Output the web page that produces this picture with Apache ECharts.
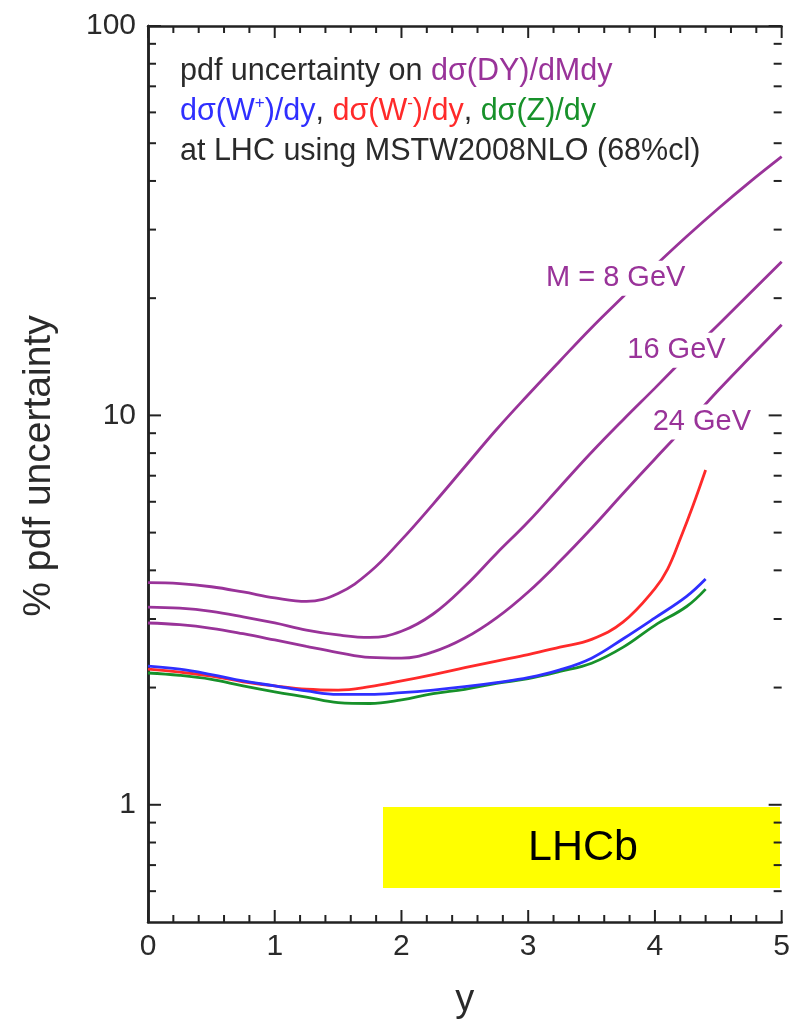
<!DOCTYPE html>
<html>
<head>
<meta charset="utf-8">
<script src="https://cdn.jsdelivr.net/npm/echarts@6/dist/echarts.min.js"></script>
<style>
  html, body { margin: 0; padding: 0; background: #ffffff; }
  #chart { width: 793px; height: 1035px; }
</style>
</head>
<body>
<div id="chart"></div>
<script>
// Rapidity grids and % pdf uncertainty values (MSTW2008NLO, 68% cl)
const dyRapidity = [0, 0.25, 0.5, 0.75, 1, 1.25, 1.5, 1.75, 2, 2.25, 2.5, 2.75, 3, 3.25, 3.5, 3.75, 4, 4.25, 4.5, 4.75, 5];
const dyM8  = [3.72, 3.70, 3.63, 3.52, 3.40, 3.33, 3.49, 3.96, 4.79, 5.92, 7.38, 9.20, 11.3, 13.8, 16.8, 20.2, 24.2, 28.8, 34.0, 39.8, 46.2];
const dyM16 = [3.22, 3.20, 3.14, 3.04, 2.93, 2.81, 2.73, 2.69, 2.79, 3.09, 3.64, 4.42, 5.33, 6.55, 8.04, 9.75, 11.75, 14.2, 17.1, 20.6, 24.8];
const dyM24 = [2.93, 2.90, 2.84, 2.75, 2.65, 2.55, 2.46, 2.39, 2.38, 2.47, 2.68, 3.02, 3.52, 4.22, 5.13, 6.31, 7.73, 9.44, 11.6, 14.1, 17.1];

const wzRapidity = [0, 0.25, 0.5, 0.75, 1, 1.25, 1.5, 1.75, 2, 2.25, 2.5, 2.75, 3, 3.25, 3.5, 3.75, 4, 4.25, 4.4];
const wPlus  = [2.27, 2.23, 2.16, 2.08, 2.02, 1.96, 1.92, 1.92, 1.94, 1.97, 2.01, 2.06, 2.12, 2.22, 2.38, 2.67, 3.02, 3.43, 3.80];
const zBoson = [2.18, 2.15, 2.10, 2.02, 1.95, 1.89, 1.83, 1.82, 1.86, 1.93, 1.98, 2.05, 2.11, 2.20, 2.31, 2.54, 2.89, 3.23, 3.58];

const wMinusRapidity = [0, 0.25, 0.5, 0.75, 1, 1.25, 1.5, 1.75, 2, 2.25, 2.5, 2.75, 3, 3.25, 3.5, 3.75, 4, 4.1, 4.2, 4.3, 4.4];
const wMinus = [2.23, 2.19, 2.14, 2.07, 2.02, 1.98, 1.97, 2.01, 2.08, 2.16, 2.25, 2.34, 2.43, 2.54, 2.66, 2.95, 3.59, 4.03, 4.82, 5.86, 7.24];

// Curve labels for the Drell-Yan mass values, anchored in data space
const massLabels = ['M = 8 GeV', '16 GeV', '24 GeV'];
const massLabelRapidity = [3.69, 4.17, 4.37];
const massLabelValue = [22.5, 14.7, 9.62];

// Axis ticks
const xMajorTicks = [0, 1, 2, 3, 4, 5];
const xMinorTicks = [0.2, 0.4, 0.6, 0.8, 1.2, 1.4, 1.6, 1.8, 2.2, 2.4, 2.6, 2.8, 3.2, 3.4, 3.6, 3.8, 4.2, 4.4, 4.6, 4.8];
const yMajorTicks = [1, 10, 100];
const yMinorTicks = [0.6, 0.7, 0.8, 0.9, 2, 3, 4, 5, 6, 7, 8, 9, 20, 30, 40, 50, 60, 70, 80, 90];

const X_MIN = 0, X_MAX = 5, Y_MIN = 0.5, Y_MAX = 100;

const FONT = '"Liberation Sans", Arial, Helvetica, sans-serif';
const AXIS = '#222222';
const TEXT = '#2a2a2a';
const PURPLE = '#993399';
const BLUE = '#2f2fff';
const RED = '#ff2a2a';
const GREEN = '#17912a';

const pairs = (xs, ys) => xs.map((x, i) => [x, ys[i]]);
const isMajor = v => yMajorTicks.some(t => Math.abs(v - t) / t < 1e-6);

const chart = echarts.init(document.getElementById('chart'), null, { renderer: 'canvas' });

const frameLine = { show: true, lineStyle: { color: AXIS, width: 2.5 } };

const lineSeries = (name, data, color) => ({
  name, type: 'line', data, smooth: 0.4, showSymbol: false, symbol: 'none',
  lineStyle: { color, width: 2.8 }, z: 3, animation: false
});

// Inward tick marks drawn on both opposite frame edges
const tickSeries = (name, values, horizontal, len) => ({
  name, type: 'custom', z: 4, silent: true, clip: false,
  data: values.map(v => (horizontal ? [v, Y_MIN] : [X_MIN, v])),
  encode: { x: 0, y: 1 },
  renderItem: (params, api) => {
    const st = { stroke: AXIS, lineWidth: 2 };
    if (horizontal) {
      const v = api.value(0);
      const b = api.coord([v, Y_MIN]);
      const t = api.coord([v, Y_MAX]);
      return { type: 'group', children: [
        { type: 'line', shape: { x1: b[0], y1: b[1], x2: b[0], y2: b[1] - len }, style: st },
        { type: 'line', shape: { x1: t[0], y1: t[1], x2: t[0], y2: t[1] + len }, style: st }
      ] };
    }
    const v = api.value(1);
    const l = api.coord([X_MIN, v]);
    const r = api.coord([X_MAX, v]);
    return { type: 'group', children: [
      { type: 'line', shape: { x1: l[0], y1: l[1], x2: l[0] + len, y2: l[1] }, style: st },
      { type: 'line', shape: { x1: r[0], y1: r[1], x2: r[0] - len, y2: r[1] }, style: st }
    ] };
  }
});

// Mass labels on white boxes that break the Drell-Yan curves
const massLabelSeries = {
  name: 'mass labels', type: 'custom', z: 6, silent: true, clip: false,
  data: massLabels.map((t, i) => [massLabelRapidity[i], massLabelValue[i], t]),
  encode: { x: 0, y: 1 },
  renderItem: (params, api) => {
    const p = api.coord([api.value(0), api.value(1)]);
    return {
      type: 'text', x: p[0], y: p[1],
      style: {
        text: massLabels[params.dataIndex],
        align: 'center', verticalAlign: 'middle',
        font: '29px ' + FONT, fill: PURPLE, opacity: 1,
        backgroundColor: '#ffffff', padding: [3, 4]
      }
    };
  }
};

const option = {
  animation: false,
  backgroundColor: '#ffffff',
  grid: { left: 148, right: 11, top: 26, bottom: 113, containLabel: false },
  xAxis: [
    {
      type: 'value', min: X_MIN, max: X_MAX, interval: 1, position: 'bottom',
      axisLine: frameLine, axisTick: { show: false }, splitLine: { show: false },
      name: 'y', nameLocation: 'middle', nameGap: 60,
      nameTextStyle: { fontFamily: FONT, fontSize: 38, color: TEXT },
      axisLabel: { show: true, margin: 10, fontFamily: FONT, fontSize: 30, color: TEXT }
    },
    {
      type: 'value', min: X_MIN, max: X_MAX, interval: 1, position: 'top',
      axisLine: frameLine, axisTick: { show: false }, splitLine: { show: false },
      axisLabel: { show: false }
    }
  ],
  yAxis: [
    {
      type: 'log', logBase: 10, min: Y_MIN, max: Y_MAX, position: 'left',
      axisLine: frameLine, axisTick: { show: false }, splitLine: { show: false },
      axisLabel: {
        show: true, margin: 12, fontFamily: FONT, fontSize: 30, color: TEXT,
        showMinLabel: false,
        formatter: v => (isMajor(v) ? String(Math.round(v)) : '')
      }
    },
    {
      type: 'log', logBase: 10, min: Y_MIN, max: Y_MAX, position: 'right',
      axisLine: frameLine, axisTick: { show: false }, splitLine: { show: false },
      axisLabel: { show: false }
    }
  ],
  series: [
    lineSeries('M = 8 GeV', pairs(dyRapidity, dyM8), PURPLE),
    lineSeries('M = 16 GeV', pairs(dyRapidity, dyM16), PURPLE),
    lineSeries('M = 24 GeV', pairs(dyRapidity, dyM24), PURPLE),
    lineSeries('W-', pairs(wMinusRapidity, wMinus), RED),
    lineSeries('Z', pairs(wzRapidity, zBoson), GREEN),
    lineSeries('W+', pairs(wzRapidity, wPlus), BLUE),
    tickSeries('x major ticks', xMajorTicks, true, 12),
    tickSeries('x minor ticks', xMinorTicks, true, 7),
    tickSeries('y major ticks', yMajorTicks, false, 13),
    tickSeries('y minor ticks', yMinorTicks, false, 8),
    massLabelSeries
  ],
  graphic: [
    {
      type: 'group', z: 100,
      children: [
        {
          type: 'text', x: 39, y: 466, rotation: Math.PI / 2,
          style: {
            text: '% pdf uncertainty', align: 'center', verticalAlign: 'middle',
            font: '39px ' + FONT, fill: TEXT
          }
        },
        {
          type: 'text', x: 180, y: 72,
          style: {
            text: '{k|pdf uncertainty on }{p|dσ(DY)/dMdy}',
            verticalAlign: 'middle', align: 'left',
            font: '30.5px ' + FONT,
            rich: {
              k: { fill: TEXT, fontSize: 30.5, fontFamily: FONT },
              p: { fill: PURPLE, fontSize: 30.5, fontFamily: FONT }
            }
          }
        },
        {
          type: 'text', x: 180, y: 112,
          style: {
            text: '{b|dσ(W}{bs|+}{b|)/dy}{k|, }{r|dσ(W}{rs|-}{r|)/dy}{k|, }{g|dσ(Z)/dy}',
            verticalAlign: 'middle', align: 'left',
            font: '30.5px ' + FONT,
            rich: {
              k: { fill: TEXT, fontSize: 30.5, fontFamily: FONT, lineHeight: 34 },
              b: { fill: BLUE, fontSize: 30.5, fontFamily: FONT, lineHeight: 34 },
              bs: { fill: BLUE, fontSize: 17, fontFamily: FONT, lineHeight: 17, verticalAlign: 'top' },
              r: { fill: RED, fontSize: 30.5, fontFamily: FONT, lineHeight: 34 },
              rs: { fill: RED, fontSize: 17, fontFamily: FONT, lineHeight: 17, verticalAlign: 'top' },
              g: { fill: GREEN, fontSize: 30.5, fontFamily: FONT, lineHeight: 34 }
            }
          }
        },
        {
          type: 'text', x: 180, y: 152,
          style: {
            text: 'at LHC using MSTW2008NLO (68%cl)',
            verticalAlign: 'middle', align: 'left',
            font: '30.5px ' + FONT, fill: TEXT
          }
        },
        {
          type: 'rect',
          shape: { x: 383, y: 807, width: 397, height: 81 },
          style: { fill: '#ffff00' }
        },
        {
          type: 'text', x: 583, y: 848,
          style: {
            text: 'LHCb', align: 'center', verticalAlign: 'middle',
            font: '43px ' + FONT, fill: '#000000'
          }
        }
      ]
    }
  ]
};

chart.setOption(option);
</script>
</body>
</html>
